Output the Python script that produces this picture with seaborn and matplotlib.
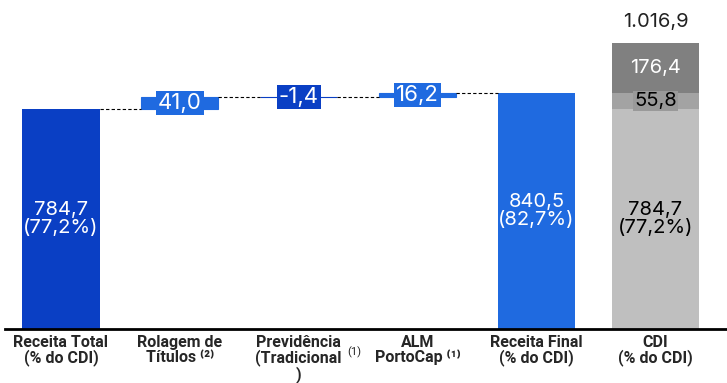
import numpy as np
import matplotlib
matplotlib.use("Agg")
import matplotlib.pyplot as plt
import seaborn as sns

categorias = ["Receita Total\n(% do CDI)", "Rolagem de\nTítulos ⁽²⁾", "Previdência\n(Tradicional\n)",
              "ALM\nPortoCap ⁽¹⁾", "Receita Final\n(% do CDI)", "CDI\n(% do CDI)"]
receita_total = 784.7
receita_total_pct = 77.2
variacoes = [41.0, -1.4, 16.2]
receita_final = 840.5
receita_final_pct = 82.7
cdi_partes = [784.7, 55.8, 176.4]
cdi_pct = 77.2

azul_escuro = "#0a3fc4"
azul_claro = "#1f6ae0"
cinzas = ["#bfbfbf", "#a3a3a3", "#808080"]


def fmt(v, casas=1):
    s = f"{v:,.{casas}f}"
    return s.replace(",", "X").replace(".", ",").replace("X", ".")


sns.set_theme(style="white")
plt.rcParams["font.family"] = ["Inter", "DejaVu Sans"]

fig = plt.figure(figsize=(7.27, 3.83), dpi=100)
ax = fig.add_axes([0.007, 0.141, 0.991, 0.859])

x = np.arange(len(categorias))
larg = 0.65

# barras cheias
ax.bar(x[0], receita_total, width=larg, color=azul_escuro, linewidth=0)
ax.bar(x[4], receita_final, width=larg, color=azul_claro, linewidth=0)
base = 0
for parte, cor in zip(cdi_partes, cinzas):
    ax.bar(x[5], parte, bottom=base, width=0.73, color=cor, linewidth=0)
    base += parte

# barras flutuantes
nivel = receita_total
niveis = [nivel]
cores_var = [azul_claro, azul_escuro, azul_claro]
for i, (v, cor) in enumerate(zip(variacoes, cores_var)):
    ax.bar(x[i + 1], v, bottom=nivel, width=larg, color=cor, edgecolor=cor, linewidth=0.8)
    ax.text(x[i + 1], nivel + v / 2, fmt(v), ha="center", va="center", color="white", fontsize=16,
            bbox=dict(boxstyle="square,pad=0.08", fc=cor, ec="none"))
    nivel += v
    niveis.append(nivel)

# linhas de ligação
for i, n in enumerate(niveis):
    ax.plot([x[i] + larg / 2, x[i + 1] - larg / 2], [n, n], color="black", lw=0.8, ls=(0, (3, 2)))

# rótulos
ax.text(x[0], receita_total / 2, f"{fmt(receita_total)}\n({fmt(receita_total_pct)}%)", ha="center",
        va="center", color="white", fontsize=14.5, linespacing=1.0)
ax.text(x[4], receita_final / 2, f"{fmt(receita_final)}\n({fmt(receita_final_pct)}%)", ha="center",
        va="center", color="white", fontsize=14.5, linespacing=1.0)
ax.text(x[5], cdi_partes[0] / 2, f"{fmt(cdi_partes[0])}\n({fmt(cdi_pct)}%)", ha="center",
        va="center", color="black", fontsize=14.5, linespacing=1.0)
ax.text(x[5], cdi_partes[0] + cdi_partes[1] / 2, fmt(cdi_partes[1]), ha="center", va="center",
        color="black", fontsize=14.5, bbox=dict(boxstyle="square,pad=0.05", fc="#999999", ec="none"))
ax.text(x[5], sum(cdi_partes[:2]) + cdi_partes[2] / 2, fmt(cdi_partes[2]), ha="center", va="center",
        color="white", fontsize=14.5)
ax.annotate(fmt(sum(cdi_partes)), (x[5], sum(cdi_partes)), xytext=(0, 9), textcoords="offset points",
            ha="center", va="bottom", color="#222222", fontsize=14.5)

ax.set_xlim(-0.47, 5.59)
ax.set_ylim(0, 1171)
ax.set_xticks(x)
ax.set_xticklabels(categorias, fontsize=11.5, fontweight="bold", family=["Roboto", "DejaVu Sans"],
                   linespacing=1.0)
ax.tick_params(axis="x", length=0, pad=4)
ax.set_yticks([])
ax.text(x[2] + 0.47, -82, "(1)", ha="center", va="center", fontsize=8, family=["Roboto", "DejaVu Sans"],
        color="#222222")

for lado in ["top", "right", "left"]:
    ax.spines[lado].set_visible(False)
ax.spines["bottom"].set_color("black")
ax.spines["bottom"].set_linewidth(2)

fig.savefig("out.png", dpi=100)
